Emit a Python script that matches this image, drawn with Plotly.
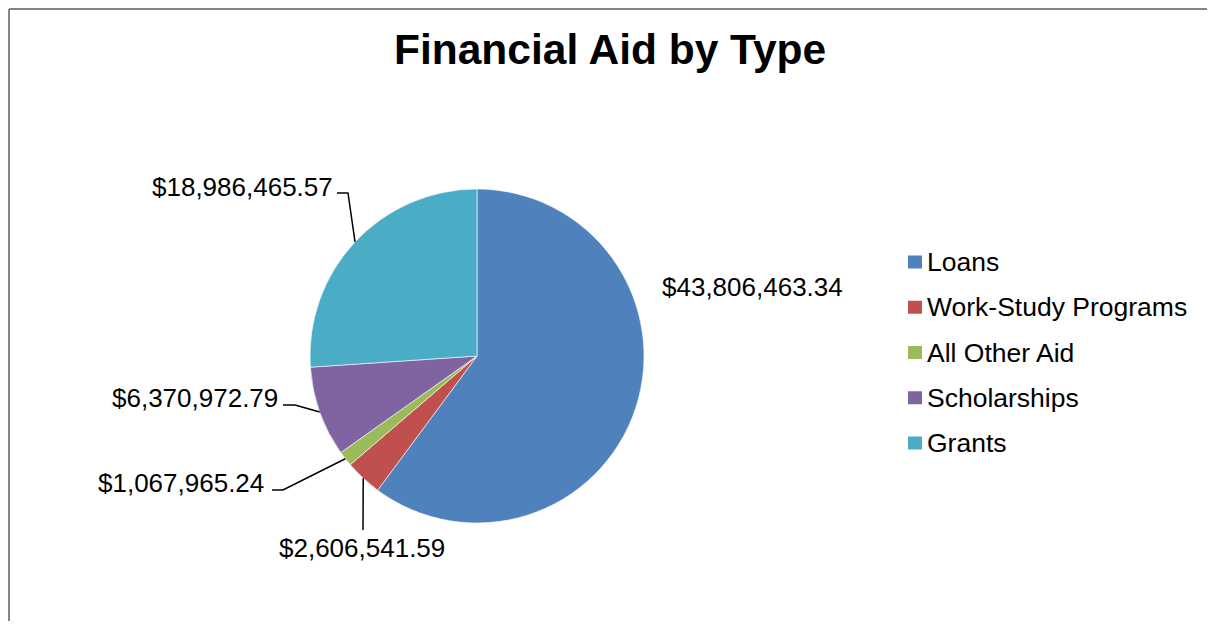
import math

import plotly.graph_objects as go

# the page has an 8px body margin, so the figure is drawn inside it
OFF = 8
W, H = 1215 - 2 * OFF, 629 - 2 * OFF

categories = ["Loans", "Work-Study Programs", "All Other Aid", "Scholarships", "Grants"]
amounts = [43806463.34, 2606541.59, 1067965.24, 6370972.79, 18986465.57]
colors = ["#4F81BD", "#C0504D", "#9BBB59", "#8064A2", "#4BACC6"]

# pie geometry in screen pixels
CX, CY, R = 477, 356, 167
FONT = "Liberation Sans, Arial, sans-serif"

# label placement (screen px): text x, text y, anchor, elbow points or None
label_layout = [
    (752, 287, "center", None),
    (362, 548, "center", [(363, 530)]),
    (266, 483, "right", [(272, 490), (283, 490)]),
    (280, 398, "right", [(283, 405), (295, 405)]),
    (335, 187, "right", [(337, 193), (348, 193)]),
]


def px(x):
    return (x - OFF) / W


def py(y):
    return 1 - (y - OFF) / H


def edge_point(start_frac, frac):
    ang = 2 * math.pi * (start_frac + frac / 2)
    return CX + R * math.sin(ang), CY - R * math.cos(ang)


fig = go.Figure()
fig.add_trace(
    go.Pie(
        labels=categories,
        values=amounts,
        sort=False,
        direction="clockwise",
        rotation=0,
        textinfo="none",
        marker={"colors": colors, "line": {"color": "#FFFFFF", "width": 0.6}},
        domain={
            "x": [px(CX - R), px(CX + R)],
            "y": [py(CY + R), py(CY - R)],
        },
        showlegend=False,
        hovertemplate="%{label}<br>$%{value:,.2f}<extra></extra>",
    )
)

shapes = []
annotations = []

total = sum(amounts)
start = 0.0
for val, (tx, ty, anchor, elbow) in zip(amounts, label_layout):
    frac = val / total
    ex, ey = edge_point(start, frac)
    start += frac
    annotations.append(
        dict(
            x=px(tx),
            y=py(ty),
            xref="paper",
            yref="paper",
            text=f"${val:,.2f}",
            showarrow=False,
            xanchor=anchor,
            yanchor="middle",
            font={"family": FONT, "size": 26, "color": "#000000"},
        )
    )
    if elbow is None:
        continue
    pts = elbow + [(ex, ey)]
    path = "M " + " L ".join(f"{px(x):.5f},{py(y):.5f}" for x, y in pts)
    shapes.append(
        dict(
            type="path",
            path=path,
            xref="paper",
            yref="paper",
            line={"color": "#000000", "width": 1.5},
        )
    )

# legend
for i, (cat, col) in enumerate(zip(categories, colors)):
    yc = 262 + i * 45.25
    shapes.append(
        dict(
            type="rect",
            xref="paper",
            yref="paper",
            x0=px(908),
            x1=px(922),
            y0=py(yc + 6.5),
            y1=py(yc - 6.5),
            fillcolor=col,
            line={"width": 0},
        )
    )
    annotations.append(
        dict(
            x=px(925),
            y=py(yc),
            xref="paper",
            yref="paper",
            text=cat,
            showarrow=False,
            xanchor="left",
            yanchor="middle",
            font={"family": FONT, "size": 26.5, "color": "#000000"},
        )
    )

# title
annotations.append(
    dict(
        x=px(610),
        y=py(49),
        xref="paper",
        yref="paper",
        text="<b>Financial Aid by Type</b>",
        showarrow=False,
        xanchor="center",
        yanchor="middle",
        font={"family": FONT, "size": 42.5, "color": "#000000"},
    )
)

# chart area border (left and top edges)
shapes.append(
    dict(type="line", xref="paper", yref="paper", x0=px(9), x1=px(9), y0=0, y1=py(9),
         line={"color": "#868686", "width": 2})
)
shapes.append(
    dict(type="line", xref="paper", yref="paper", x0=px(9), x1=1, y0=py(9), y1=py(9),
         line={"color": "#868686", "width": 2})
)

fig.update_layout(
    width=W,
    height=H,
    margin={"l": 0, "r": 0, "t": 0, "b": 0},
    paper_bgcolor="#FFFFFF",
    plot_bgcolor="#FFFFFF",
    shapes=shapes,
    annotations=annotations,
    showlegend=False,
)

fig.write_html("out.html")
